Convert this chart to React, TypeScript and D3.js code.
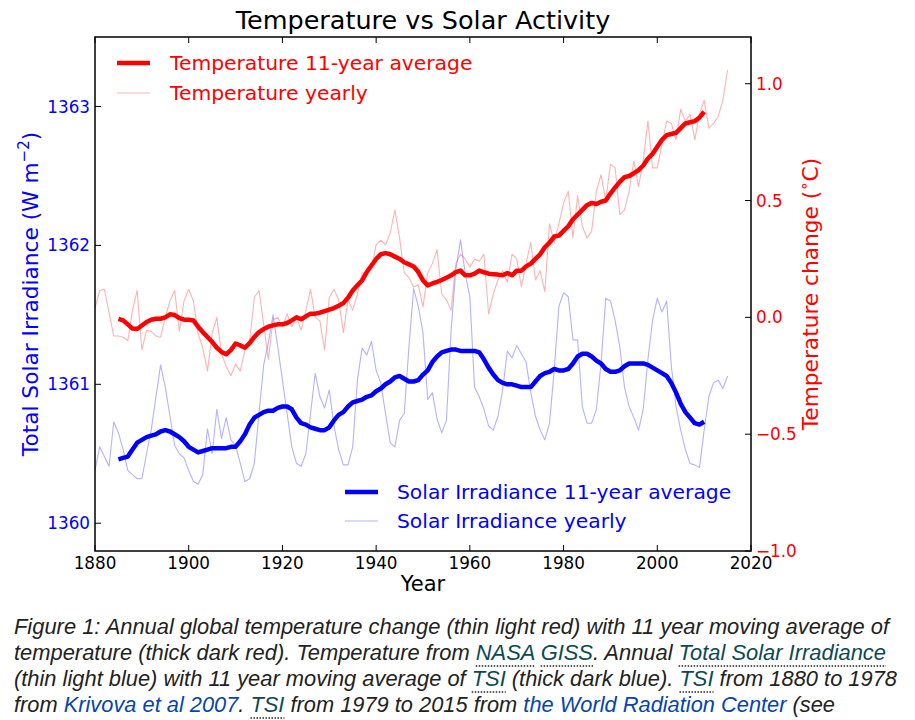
import React, { useLayoutEffect, useRef, useState } from "react";
import * as d3 from "d3";

// ---------- data ----------
const yearlyStart = 1880;
const averageStart = 1885;

const tempYearly = [
  0.04, 0.115, 0.12, 0.02, -0.08, -0.08, -0.085, -0.1, 0.03, 0.115,
  -0.14, -0.055, -0.06, -0.08, -0.085, 0.0, 0.07, 0.115, -0.06, 0.07,
  0.12, 0.07, -0.07, -0.13, -0.23, -0.07, 0.0, -0.155, -0.21, -0.25,
  -0.2, -0.23, -0.14, -0.1, 0.085, 0.115, -0.03, -0.18, -0.01, 0.0,
  -0.04, 0.015, -0.04, 0.0, -0.055, 0.03, 0.12, 0.0, -0.015, -0.14,
  0.085, 0.12, 0.075, -0.065, 0.075, 0.03, 0.1, 0.19, 0.19, 0.21,
  0.31, 0.33, 0.31, 0.36, 0.46, 0.34, 0.19, 0.17, 0.13, 0.14,
  0.045, 0.19, 0.23, 0.29, 0.1, 0.075, 0.03, 0.23, 0.27, 0.25,
  0.215, 0.25, 0.24, 0.27, 0.015, 0.1, 0.16, 0.2, 0.15, 0.27,
  0.25, 0.13, 0.23, 0.32, 0.16, 0.2, 0.11, 0.4, 0.32, 0.4,
  0.49, 0.54, 0.34, 0.52, 0.39, 0.34, 0.37, 0.54, 0.61, 0.5,
  0.655, 0.64, 0.44, 0.46, 0.54, 0.67, 0.56, 0.67, 0.84, 0.64,
  0.64, 0.74, 0.84, 0.83, 0.76, 0.89, 0.84, 0.87, 0.76, 0.87,
  0.93, 0.81, 0.83, 0.86, 0.93, 1.06,
];

const tempAverage = [
  -0.006, -0.013, -0.03, -0.048, -0.05,
  -0.035, -0.02, -0.01, -0.006, -0.006, 0.0, 0.013, 0.01, -0.003, -0.01,
  -0.01, -0.013, -0.04, -0.063, -0.084, -0.105, -0.13, -0.148, -0.158, -0.14,
  -0.112, -0.12, -0.13, -0.11, -0.084, -0.063, -0.05, -0.04, -0.034, -0.03,
  -0.03, -0.024, -0.013, 0.0, -0.008, 0.004, 0.016, 0.016, 0.02, 0.027,
  0.033, 0.04, 0.05, 0.061, 0.084, 0.115, 0.137, 0.158, 0.194, 0.222,
  0.25, 0.27, 0.275, 0.27, 0.26, 0.25, 0.236, 0.227, 0.218, 0.194,
  0.158, 0.137, 0.145, 0.152, 0.16, 0.17, 0.18, 0.194, 0.2, 0.18,
  0.18, 0.187, 0.2, 0.193, 0.187, 0.185, 0.183, 0.18, 0.19, 0.18,
  0.2, 0.2, 0.218, 0.23, 0.25, 0.27, 0.3, 0.32, 0.346, 0.35,
  0.37, 0.39, 0.42, 0.44, 0.46, 0.48, 0.49, 0.485, 0.495, 0.5,
  0.53, 0.556, 0.58, 0.6, 0.605, 0.617, 0.63, 0.65, 0.68, 0.7,
  0.73, 0.76, 0.78, 0.785, 0.79, 0.81, 0.83, 0.835, 0.84, 0.855,
  0.88,
];

const tsiYearly = [
  1360.38, 1360.55, 1360.48, 1360.41, 1360.73, 1360.65, 1360.53, 1360.38, 1360.35, 1360.32,
  1360.32, 1360.5, 1360.67, 1360.91, 1361.14, 1360.98, 1360.77, 1360.56, 1360.5, 1360.47,
  1360.38, 1360.3, 1360.28, 1360.35, 1360.68, 1360.5, 1360.82, 1360.61, 1360.76, 1360.6,
  1360.56, 1360.43, 1360.3, 1360.32, 1360.43, 1360.79, 1361.14, 1361.3, 1361.5, 1361.27,
  1361.03, 1360.79, 1360.55, 1360.43, 1360.41, 1360.5, 1360.79, 1361.08, 1360.91, 1360.83,
  1360.96, 1360.7, 1360.53, 1360.42, 1360.42, 1360.55, 1361.03, 1361.26, 1361.21, 1361.31,
  1361.1, 1361.01, 1360.79, 1360.58, 1360.55, 1360.74, 1360.79, 1361.27, 1361.69, 1361.56,
  1361.37, 1360.89, 1360.94, 1360.75, 1360.65, 1360.74, 1361.39, 1361.82, 1362.04, 1361.8,
  1361.63, 1360.98, 1360.91, 1360.82, 1360.7, 1360.67, 1360.77, 1360.96, 1361.24, 1361.19,
  1361.28, 1361.22, 1361.16, 1360.94, 1360.77, 1360.67, 1360.6, 1360.72, 1361.1, 1361.56,
  1361.66, 1361.63, 1361.32, 1361.32, 1360.84, 1360.72, 1360.72, 1360.82, 1361.15, 1361.62,
  1361.6, 1361.46, 1361.27, 1360.98, 1360.84, 1360.76, 1360.67, 1360.82, 1361.18, 1361.46,
  1361.62, 1361.52, 1361.6, 1361.13, 1360.84, 1360.67, 1360.53, 1360.43, 1360.42, 1360.4,
  1360.67, 1360.91, 1361.01, 1361.03, 1360.97, 1361.06,
];

const tsiAverage = [
  1360.46, 1360.47, 1360.48, 1360.53, 1360.58,
  1360.6, 1360.62, 1360.63, 1360.64, 1360.66, 1360.67, 1360.66, 1360.64, 1360.62, 1360.59,
  1360.55, 1360.53, 1360.51, 1360.52, 1360.53, 1360.54, 1360.54, 1360.54, 1360.54, 1360.55,
  1360.55, 1360.59, 1360.64, 1360.71, 1360.76, 1360.78, 1360.8, 1360.81, 1360.81, 1360.83,
  1360.84, 1360.84, 1360.82, 1360.76, 1360.72, 1360.71, 1360.69, 1360.68, 1360.67, 1360.67,
  1360.69, 1360.74, 1360.78, 1360.8, 1360.84, 1360.87, 1360.88, 1360.89, 1360.91, 1360.92,
  1360.95, 1360.97, 1361.0, 1361.02, 1361.05, 1361.06, 1361.04, 1361.02, 1361.02, 1361.03,
  1361.07, 1361.1, 1361.16, 1361.2, 1361.23, 1361.24, 1361.25, 1361.25, 1361.24, 1361.24,
  1361.24, 1361.24, 1361.23, 1361.18, 1361.12, 1361.07, 1361.03, 1361.01, 1361.0, 1361.0,
  1360.99, 1360.98, 1360.98, 1360.98, 1361.02, 1361.06, 1361.08, 1361.09, 1361.11, 1361.1,
  1361.1, 1361.11, 1361.15, 1361.2, 1361.22, 1361.22, 1361.2, 1361.17, 1361.15, 1361.11,
  1361.09, 1361.09, 1361.1, 1361.13, 1361.15, 1361.15, 1361.15, 1361.15, 1361.14, 1361.12,
  1361.1, 1361.08, 1361.06, 1361.01, 1360.94, 1360.86, 1360.8, 1360.76, 1360.72, 1360.71,
  1360.73,
];

const xTicks = [1880, 1900, 1920, 1940, 1960, 1980, 2000, 2020];
const leftTicks = [1360, 1361, 1362, 1363];
const rightTicks = [-1.0, -0.5, 0.0, 0.5, 1.0];

const titleText = "Temperature vs Solar Activity";
const xLabel = "Year";
const legendTop = ["Temperature 11-year average", "Temperature yearly"];
const legendBottom = ["Solar Irradiance 11-year average", "Solar Irradiance yearly"];

type Seg = { t: string; kind?: "abbr" | "link" | "ext" };
const captionLines: Seg[][] = [
  [{ t: "Figure 1: Annual global temperature change (thin light red) with 11 year moving average of" }],
  [
    { t: "temperature (thick dark red). Temperature from " },
    { t: "NASA", kind: "abbr" },
    { t: " " },
    { t: "GISS", kind: "abbr" },
    { t: ". Annual " },
    { t: "Total Solar Irradiance", kind: "abbr" },
  ],
  [
    { t: "(thin light blue) with 11 year moving average of " },
    { t: "TSI", kind: "abbr" },
    { t: " (thick dark blue). " },
    { t: "TSI", kind: "abbr" },
    { t: " from 1880 to 1978" },
  ],
  [
    { t: "from " },
    { t: "Krivova et al 2007", kind: "ext" },
    { t: ". " },
    { t: "TSI", kind: "abbr" },
    { t: " from 1979 to 2015 from " },
    { t: "the World Radiation Center", kind: "ext" },
    { t: " (see" },
  ],
];
const captionWidths = [875, 872, 883, 821];

// ---------- layout ----------
const W = 915;
const H = 720;
const L = 95, R = 751, T = 37, B = 551;
const FONT = "DejaVu Sans, sans-serif";
const RED = "#ff0000";
const BLUE = "#0000ff";

export default function App() {
  const x = d3.scaleLinear().domain([1880, 2020]).range([L, R]);
  const yL = d3.scaleLinear().domain([1359.8, 1363.5]).range([B, T]);
  const yR = d3.scaleLinear().domain([-1.0, 1.2]).range([B, T]);

  const mk = (vals: number[], start: number) => vals.map((v, i) => [start + i, v] as [number, number]);
  const lineL = d3.line<[number, number]>().x((d) => x(d[0])).y((d) => yL(d[1]));
  const lineR = d3.line<[number, number]>().x((d) => x(d[0])).y((d) => yR(d[1]));

  const fmtR = d3.format(".1f");

  const capRef = useRef<SVGGElement>(null);
  const [underlines, setUnderlines] = useState<{ x1: number; x2: number; y: number }[]>([]);
  useLayoutEffect(() => {
    const g = capRef.current;
    if (!g) return;
    const res: { x1: number; x2: number; y: number }[] = [];
    g.querySelectorAll("tspan[data-abbr]").forEach((el: any) => {
      const n = el.getNumberOfChars();
      if (n === 0) return;
      const s = el.getStartPositionOfChar(0);
      const e = el.getEndPositionOfChar(n - 1);
      res.push({ x1: s.x, x2: e.x, y: s.y + 6 });
    });
    setUnderlines(res);
  }, []);

  const capY0 = 634;
  const capDy = 26;

  return (
    <svg width={W} height={H} style={{ position: "absolute", left: 0, top: 0, background: "#fff" }}>
      <rect x={0} y={0} width={W} height={H} fill="#fff" />
      {/* title */}
      <text x={(L + R) / 2} y={29} textAnchor="middle" fontFamily={FONT} fontSize={25.5} fill="#000">
        {titleText}
      </text>

      {/* data */}
      <g fill="none" strokeLinejoin="round" strokeLinecap="butt">
        <path d={lineL(mk(tsiYearly, yearlyStart)) || ""} stroke={BLUE} strokeOpacity={0.3} strokeWidth={1.1} />
        <path d={lineL(mk(tsiAverage, averageStart)) || ""} stroke={BLUE} strokeWidth={4.5} />
        <path d={lineR(mk(tempYearly, yearlyStart)) || ""} stroke={RED} strokeOpacity={0.3} strokeWidth={1.1} />
        <path d={lineR(mk(tempAverage, averageStart)) || ""} stroke={RED} strokeWidth={4.5} />
      </g>

      {/* frame */}
      <rect x={L} y={T} width={R - L} height={B - T} fill="none" stroke="#000" strokeWidth={1.5} />

      {/* x ticks */}
      {xTicks.map((t) => (
        <g key={"x" + t}>
          <line x1={x(t)} x2={x(t)} y1={B} y2={B - 6} stroke="#000" strokeWidth={1} />
          <line x1={x(t)} x2={x(t)} y1={T} y2={T + 6} stroke="#000" strokeWidth={1} />
          <text x={x(t)} y={569} textAnchor="middle" fontFamily={FONT} fontSize={16.8} fill="#000">
            {t}
          </text>
        </g>
      ))}
      {/* left ticks */}
      {leftTicks.map((t) => (
        <g key={"l" + t}>
          <line x1={L} x2={L + 6} y1={yL(t)} y2={yL(t)} stroke="#000" strokeWidth={1} />
          <text x={90} y={yL(t)} dy="0.36em" textAnchor="end" fontFamily={FONT} fontSize={16.8} fill={BLUE}>
            {t}
          </text>
        </g>
      ))}
      {/* right ticks */}
      {rightTicks.map((t) => (
        <g key={"r" + t}>
          <line x1={R - 6} x2={R} y1={yR(t)} y2={yR(t)} stroke="#000" strokeWidth={1} />
          <text x={756} y={yR(t)} dy="0.36em" textAnchor="start" fontFamily={FONT} fontSize={16.8} fill={RED}>
            {fmtR(t)}
          </text>
        </g>
      ))}

      {/* axis labels */}
      <text x={(L + R) / 2} y={591} textAnchor="middle" fontFamily={FONT} fontSize={21} fill="#000">
        {xLabel}
      </text>
      <text
        transform={`translate(38,${(T + B) / 2}) rotate(-90)`}
        textAnchor="middle"
        fontFamily={FONT}
        fontSize={21.7}
        fill={BLUE}
      >
        Total Solar Irradiance (W m
        <tspan fontSize={15} dy={-9}>−2</tspan>
        <tspan dy={9}>)</tspan>
      </text>
      <text
        transform={`translate(818,${(T + B) / 2}) rotate(-90)`}
        textAnchor="middle"
        fontFamily={FONT}
        fontSize={21.7}
        fill={RED}
      >
        Temperature change (
        <tspan fontSize={15} dy={-9}>∘</tspan>
        <tspan dy={9}>C)</tspan>
      </text>

      {/* legend top */}
      <g fontFamily={FONT} fontSize={20.3}>
        <line x1={117} x2={150} y1={63} y2={63} stroke={RED} strokeWidth={4.5} />
        <text x={170} y={63} dy="0.36em" fill={RED}>{legendTop[0]}</text>
        <line x1={117} x2={150} y1={93} y2={93} stroke={RED} strokeOpacity={0.3} strokeWidth={1.1} />
        <text x={170} y={93} dy="0.36em" fill={RED}>{legendTop[1]}</text>

        <line x1={345} x2={378} y1={492} y2={492} stroke={BLUE} strokeWidth={4.5} />
        <text x={397} y={492} dy="0.36em" fill={BLUE}>{legendBottom[0]}</text>
        <line x1={345} x2={378} y1={521} y2={521} stroke={BLUE} strokeOpacity={0.3} strokeWidth={1.1} />
        <text x={397} y={521} dy="0.36em" fill={BLUE}>{legendBottom[1]}</text>
      </g>

      {/* caption */}
      <g ref={capRef} fontFamily="Liberation Sans, Arial, sans-serif" fontStyle="italic" fontSize={21.2} fill="#222">
        {captionLines.map((line, i) => (
          <text
            key={i}
            x={14}
            y={capY0 + i * capDy}
            textLength={captionWidths[i]}
            lengthAdjust="spacingAndGlyphs"
          >
            {line.map((s, j) => (
              <tspan
                key={j}
                data-abbr={s.kind === "abbr" ? "1" : undefined}
                fill={s.kind === "abbr" ? "#0b4a52" : s.kind === "ext" ? "#0645ad" : "#222"}
              >
                {s.t}
              </tspan>
            ))}
          </text>
        ))}
      </g>
      {underlines.map((u, i) => (
        <line key={i} x1={u.x1} x2={u.x2} y1={u.y} y2={u.y} stroke="#222" strokeWidth={1.5} strokeDasharray="1.5,1.5" />
      ))}
    </svg>
  );
}
